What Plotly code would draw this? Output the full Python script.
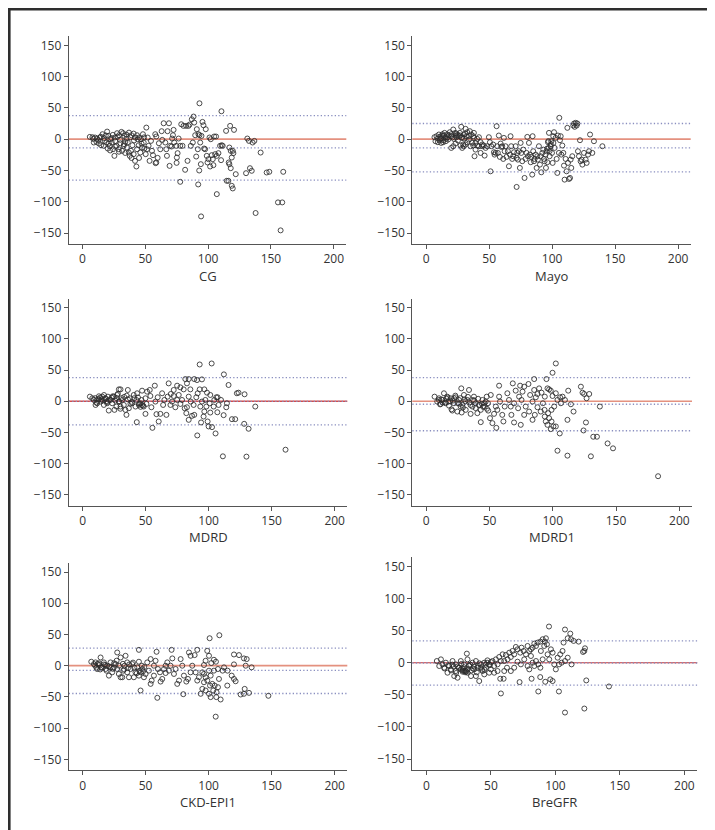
import plotly.graph_objects as go

W, H = 715, 830

# ---------------- data (mean GFR vs difference) ----------------
cg_x = [5.8, 7.9, 10, 11.6, 13.8, 15.9, 16.9, 19.6, 20.6, 22.2, 24.1, 25.7, 27.5, 29.1, 31, 32.3, 33.3, 34.9, 37, 38.9, 40.7, 42, 43.4, 45, 46.6, 48.1, 50.8, 51.9,
        9, 11.1, 13, 14.8, 16.9, 19, 20.1, 21.7, 23.3, 24.3, 25.4, 27, 28.8, 30.2, 31.5, 32.8, 34.1, 35.4, 36.8, 37.6, 38.6, 39.7, 40.7, 41.8, 42.9, 43.4, 44.7, 46, 47.4, 48.7, 49.2, 50.3, 51.3, 52.6, 53.4, 54.5, 55.3, 56.1,
        8.5, 12.5, 14.5, 17.5, 18.5, 21, 23, 26, 28, 30, 33, 35, 36, 38, 41, 44, 47, 49, 29, 34, 39, 45, 26, 22,
        57.9, 58.7, 59.8, 58.7, 60.8, 61.9, 63, 63.5, 64.6, 65.9, 66.7, 67.2, 67.7, 68.8, 69.3, 69.8, 70.9, 71.4, 72, 72.5, 73, 74.6, 75.1, 75.7, 76.5, 77.8, 78.6, 79.6, 80.4, 81.7, 82.5, 83.6, 84.4, 85.2, 86.2, 87, 87.8, 88.4, 88.9, 89.7, 90.5, 91, 91.8, 92.3, 92.9, 93.1, 93.7, 94.2, 94.7, 95.5, 96.3, 96.8, 97.6, 98.1, 98.9, 99.5, 100.3, 101.1, 101.6, 102.1, 102.9, 103.7, 104.2, 104.8, 105.6, 106.3, 106.9, 108.2, 109.5, 110.3, 110.8, 111.6, 58.2, 74.9,
        114.3, 116.9, 117.5, 118, 118.8, 119.6, 120.1, 120.6, 116.4, 116.9, 118, 122, 118.8, 119.6, 116.1, 114.8, 130.2, 133.3, 134.7, 131.2, 132.5, 135.4, 136.8, 141.8, 146.6, 148.7, 159.8, 155.6, 159, 137.8, 157.7, 94.4, 106.9, 92.1, 77.8, 93.1, 110.6]
cg_y = [3.7, 3.2, 2.7, 1.1, 2.7, 8, 1.6, 12.2, 5.3, 0, 6.9, 2.7, 9.6, 6.4, 11.7, 9.6, 5.3, 7.4, 10.6, 6.4, 9, 2.7, 6.4, 2.7, 0, 8, 18.6, 2.7,
        -5.3, -4.3, -6.9, -9.6, -10.6, -5.3, -14.9, -10.6, -5.3, -16, -26.6, -10.6, -16, -6.4, -18.6, -10.6, -4.3, -13.3, -21.3, -26.6, -18.6, -9.6, -23.9, -34.6, -43.6, -16, -9.6, -21.3, -13.3, -5.3, -14.9, -23.9, -16, -10.6, -34.6, -2.7, -18.6, -25.5,
        0.5, -1.5, 4, -2.5, 6, -7, 2, -3, 4, -1, -8, 1, -5, 3, -2, 0, -7, 3, -20, -22, -30, -30, -12, -18,
        8, 4.3, -29.8, -37.2, -6.4, -16, 12.8, -1.1, 25.5, -5.3, -16, -26.6, 12.8, 25.5, -42.6, -10.6, -11.7, 1.1, 6.4, 14.9, -5.3, -10.6, -29.3, -22.3, 1.1, -10.6, 23.9, -10.6, 21.3, -48.9, 21.3, -34.6, 21.3, 23.4, -10.6, 31.9, -5.3, 36.2, 26.6, 6.4, -27.7, 16, -16, 8, -50, 6.4, -5.3, -39.9, 5.3, 27.7, 22.3, -14.9, -16, 16, -26.6, -37.2, -31.9, 2.7, -43.6, 0, -25.5, -31.9, -41.5, 4.3, -23.9, 4.3, -26.6, -22.3, -10.6, -33.5, -9.6, -10.6, -38.3, -37.8,
        13.3, -13.3, 21.3, -18.6, -29.3, -18.6, -22.3, 14.9, -37.2, -39.9, -46.3, -55.9, -74.5, -78.7, -66.5, -66.5, -54.3, -46.3, -50.5, 1.1, -2.7, -5.3, -2.7, -21.3, -53.2, -52.1, -52.1, -101, -101, -118, -145.7, -123.4, -87.8, -72.3, -68.1, 57.4, 44.7]

mayo_x = [6.6, 8.2, 10.1, 11.4, 12.7, 13.5, 14.6, 15.4, 16.7, 17.5, 18.8, 19.9, 21.5, 22, 23.3, 24.1, 25.2, 26, 26.8, 27.8, 28.6, 29.4, 29.9, 31.3, 32.1, 32.6, 33.9, 34.7, 35.8, 36.6, 37.4, 37.9, 39.2, 40.5, 41.9, 43.2, 44.5,
          7.4, 9.3, 10.9, 11.9, 13.5, 15.6, 19.9, 21.5, 23.3, 27.3, 28.6, 29.9, 31.3, 32.6, 35.2, 37.4, 38.4, 39.2, 40.5, 41.9, 43.2, 44.5, 45.8, 46.4, 47.2, 48.5, 49.8, 50.6, 51.1, 51.7, 53.2, 53.8, 54.3, 55.1, 55.9, 56.4, 56.9, 57.7, 58.5, 59.1, 59.6, 60.4, 61.2, 61.7, 62.3, 63, 63.8, 64.9, 65.7, 66.5, 67, 67.5, 68.3, 69.1, 69.7, 71, 71.8, 72.3, 72.8, 73.6, 74.4, 75, 75.5, 76.3, 77.1, 78.1, 78.9, 79.7, 80.3, 80.8, 81.6, 82.4, 83, 83.4, 84.2, 84.5, 85, 85.6, 86.1, 86.9, 87.7, 88.2, 88.7, 89.5, 90.3, 90.9, 91.4, 92.2, 93, 93.5, 94, 94.8, 95.1, 95.6, 96.2, 96.7, 97.2, 97.5, 98, 98.8, 99.3, 99.9, 100.4, 100.9, 101.5, 102, 102.8, 103.6, 104.1, 104.6, 105.4, 105.7, 106.2, 106.8, 107.3, 108.1, 108.9, 109.4, 109.9, 110.7, 111.5, 112.1, 112.6, 113.4, 114.2, 114.7, 115.2, 116, 116.8, 117.4, 117.9, 118.7, 119.5, 120, 120.5, 121.3, 122.1, 122.6, 123.4, 124, 125.3, 126.6, 127.4, 128.5, 129.3, 130.1, 131.9, 133.2, 139.9, 71.8,
          9, 12, 14, 17, 20, 24, 27, 30, 34, 38, 11, 13, 16, 18, 21, 23, 25, 28, 31, 97, 99, 96, 98, 101]
mayo_y = [3.2, 4.8, 7.5, 0.5, 5.9, -1.6, 10.1, 3.2, 7.5, -0.5, 11.2, 4.8, 15.5, 0.5, 5.9, 9.1, -2.1, 4.8, 10.1, 19.8, 2.1, -8.5, 7.5, 16.6, 4.8, 11.2, -0.5, 12.8, 7.5, -5.9, 4.8, 10.1, -5.9, 0.5, 3.2, -4.8, -11.2,
          -3.2, -4.8, -1.6, -5.9, -4.8, -3.2, -13.9, -11.2, -6.9, -10.1, -13.9, -11.2, -8.5, -4.8, -11.2, -10.1, -27.2, -16.6, -10.1, -11.2, -21.9, -8.5, -10.1, -26.2, -13.9, -11.2, 3.2, -4.8, -51.3, -11.2, -8.5, -20.8, -24.6, -21.9, 20.8, -11.2, -21.9, 5.9, -28.3, -6.9, -12.3, -11.2, -31.5, 2.1, -19.2, -11.2, -28.3, -19.2, -43.2, -24.6, 4.8, -11.2, -31.5, -27.2, -20.8, -11.2, -29.9, -21.9, -32.6, -19.2, -45.9, -5.9, -21.9, -35.2, -16.6, -61.9, -31.5, -21.9, 3.7, -27.2, -5.9, -24.6, -36.8, -28.3, -56.6, 4.8, -19.2, -35.2, -31.5, -24.6, -45.9, -27.2, -32.6, -11.2, -40.6, -27.2, -52.9, -21.9, -16.6, -31.5, -35.2, -24.6, -45.9, -19.2, -36.8, -4.8, -13.9, 10.1, -27.2, -11.2, -3.2, -21.9, -37.9, 4.8, 11.2, -13.9, 2.1, -31.5, -53.9, 5.9, -21.9, 34.2, -1.6, 4.8, -24.6, -10.1, -21.9, -42.2, -64.6, -31.5, -51.3, 18.2, -37.9, -63.5, -61.9, -32.6, -45.9, -27.2, 21.9, 25.1, 19.8, 26.2, 21.9, 25.1, -19.2, -27.2, -1.6, -35.2, -32.6, -40.6, -21.9, -32.6, -37.9, -24.6, -19.2, 7.5, -21.9, -3.2, -11.2, -76.3,
          1, 2, 6, 3, 8, 3, 6, 1, 5, 2, 4, 8, 1, 6, 3, 10, 7, 3, 9, -3, -8, -15, -19, -6]

mdrd_x = [92.9, 102.4, 112.1, 115.8, 137, 161, 111.3, 130, 91, 105.5, 55.4, 43,
          81.5, 84.2, 88.6, 90.8, 94.7, 82.8, 75, 77.6, 68.3, 57.3, 80.2, 72.3, 85.5, 92.9, 96.6, 98.7, 101.3, 106.1, 107.1, 109.8, 122.4, 123.7, 128.5, 114.5, 114, 111.9, 118.5, 121.1, 128.2, 131.7, 106.9, 101.3, 96.6, 96, 94, 99.2, 100, 102.7, 88.6, 86.8, 84.2, 82.3, 81, 77.6, 75, 72.3, 70, 67.5, 64.9, 66.5, 61.7, 58.6, 60.4, 54.6, 53.8, 51.2, 53.3, 47.2, 46.7, 45.9, 48.5, 49.9, 44.6, 42.7, 40.6, 37.5, 35.9, 34.8, 34, 32.7, 31.4, 30.1, 28.8, 27.4, 26.9, 25.3, 24.8, 23.5, 22.2, 20.8, 20.1, 19, 18.2, 16.9, 15.6, 14.2, 12.9, 11.6, 10.3, 9, 7.7, 5.8,
          57.8, 59.6, 63.1, 63.9, 69.7, 71, 73.6, 76.3, 78.9, 82.8, 84.2, 85.8, 88.1, 90.2, 91.3, 93.4, 94.7, 97.4, 98.2, 100.8, 104, 104.5, 107.9, 49.9, 39.3, 28.8, 42, 19.5, 30.1, 36.7, 50.7, 43.3,
          10, 12, 14, 16, 18, 21, 24, 27, 29, 33, 36, 39, 41, 45, 47,
          11, 13, 15, 17, 20, 23, 26, 28, 31, 35, 38, 44, 46, 48, 30]
mdrd_y = [59, 60.6, 43.1, 26.1, -8.5, -77.7, -88.3, -88.8, -54.8, -51.6, -42.6, -33.5,
          35.6, 35.6, 35.6, 34, 35.1, 28.7, 25, 22.3, 28.7, 25, 19.1, 18.1, 19.1, 19.1, 19.1, 13.8, 10.1, 6.4, 6.4, 2.1, 12.8, 13.8, 11.2, -3.2, -9.6, -22.3, -28.7, -28.7, -36.2, -44.1, -17.6, -18.1, -16.5, -24.5, -34, -32.4, -40.4, -41.5, -21.8, -23.4, -29.8, -19.1, -11.2, -4.3, 2.1, 8.5, 11.7, 7.4, 2.1, -21.8, -20.2, -20.7, -32.4, -9.6, 8.5, 15.4, 18.1, 17, 2.1, -3.2, -8.5, -20.2, -5.9, 2.1, 10.1, 4.8, 18.1, -21.8, -13.8, -5.9, 2.1, 19.1, 19.1, 10.1, -8.5, -13.8, 7.4, -3.2, 2.1, -14.9, 7.4, -0.5, 4.8, -5.9, 7.4, -0.5, 3.2, -3.2, -5.9, 2.1, 4.8, 7.4,
          -0.5, 6.4, 12.8, -5.9, -5.9, -0.5, -9.6, 10.1, 2.1, -9.6, 7.4, -0.5, -5.9, 6.4, 12.8, -8.5, -0.5, 2.1, -8.5, -3.2, -8.5, 2.1, -5.9, 4.8, -3.2, -0.5, -8.5, -3.2, -8.5, -11.2, -4.3, 12.8,
          5, 3, 6, 1, 4, 2, 8, 5, 0, 7, 3, -1, 5, -4, -6,
          -2, 8, 3, 10, -1, 6, 1, 12, 5, 9, -4, 6, -9, -7, -12]

mdrd1_x = [102.4, 99.8, 85.3, 95, 112.2, 122.2, 123.5, 124.8, 128.8, 126.7, 137.2, 116.4, 114.3, 111.6, 126.2, 124.3, 132, 134.9, 143.3, 147.6, 103.7, 111.6, 130.1, 183.2, 105.5, 55.4, 43.1, 74.7, 69.4, 61,
           57.6, 68.4, 74.2, 77.4, 80.8, 70.7, 76.1, 82.1, 87.9, 89.2, 91.1, 93.7, 95.8, 97.1, 98.4, 99.8, 102.4, 105.8, 107.7, 109.6, 106.4, 101.1, 99, 96.3, 94.5, 95.8, 98.4, 100.5, 102.4, 99, 97.1, 93.7, 90.5, 87.9, 85.8, 84, 81.3, 78.6, 77.4, 75.3, 72.6, 69.4, 67.3, 65.4, 64.1, 62, 60.1, 58.3, 57.6, 56.2, 53.6, 52.3, 50.4, 48.8, 47.8, 46.2, 44.4, 43.1, 41.7, 40.4, 39, 37.7, 36.5, 35.1, 33.8, 32.5, 31.2, 29.8, 28.5, 27.7, 27.2, 25.9, 24.6, 23.3, 21.9, 20.6, 19.3, 17.6, 16.6, 15.3, 14, 12.7, 11.4, 10.1, 8.7, 6.6, 51, 47, 55, 66.8, 73.4, 84, 86.6, 92.2, 93.5, 103.7, 85.3,
           10, 13, 16, 19, 22, 26, 30, 34, 38, 42, 46,
           11, 12, 15, 17, 18, 21, 23, 25, 27, 29, 31, 33, 35, 37, 39, 41, 44, 45, 48, 49, 28, 20]
mdrd1_y = [60.6, 45.7, 35.6, 35.6, 17, 23.4, 13.8, 11.7, 11.7, 4.8, -8.5, -16.5, -4.8, -29.8, -34, -46.8, -56.9, -56.9, -67.6, -75.5, -79.3, -87.2, -88.3, -120.2, -51.6, -42.6, -33.5, -37.8, -34, -32.4,
           25, 28.7, 25, 23.4, 27.7, 17, 15.4, 10.1, 11.7, 20.7, 13.8, 7.4, 20.7, 19.1, 17, 8.5, 12.8, 6.4, 7.4, 2.1, -3.2, -8.5, -13.8, -19.1, -32.4, -37.8, -44.7, -40.4, -40.4, -32.4, -27.1, -24.5, -16.5, -9.6, -21.8, -29.8, -16.5, -8.5, -21.8, 2.1, -11.2, -3.2, -21.8, 2.1, 12.8, -8.5, -21.8, -0.5, 7.4, -13.8, -20.2, -35.1, -27.1, -3.2, 7.4, -8.5, 2.1, -13.8, -5.9, -19.1, -3.2, 7.4, -8.5, -20.2, 18.1, 2.1, -13.8, 10.1, -5.9, 20.7, -8.5, 2.1, -16.5, 6.4, -3.2, -14.9, 4.8, -0.5, 7.4, -3.2, 12.8, 2.1, -4.3, 4.8, -0.5, 7.4, 10.1, -0.5, -8.5, -8.5, 7.4, -0.5, 6.4, -3.2, -13.8, 2.1, 18.1,
           2, -2, 4, 0, 5, -4, 3, -2, 1, -6, -3,
           -5, 3, -2, 6, -7, 1, 9, -3, 5, -10, 0, 7, -6, 2, -11, 4, -4, -9, -12, -15, -18, -13]

ckd_x = [100.8, 108.5, 105.6, 147.4, 59.3, 46, 79.9, 70.6, 58.7, 44.7, 27.5, 120.1, 124.1, 128, 130.2, 120.1, 129.4, 134.1, 118.3, 120.1, 114.8, 121.4, 125.4, 128, 132, 128.6, 109.5, 106.1, 101.6, 100.3, 97.6, 93.7, 95, 96.3, 98.9, 101.6, 102.9, 104.8, 106.3, 107.4, 108.2, 104.2, 102.1, 104.2, 105.8, 100.3, 98.9, 97.6, 96.3, 95, 92.3, 91, 89.7, 91, 88.9, 85.7, 87, 84.4, 83.6, 82.3, 80.4, 79.1, 77.8, 76.5, 75.1, 72.5, 71.2, 69.8, 68.5, 67.2, 65.9, 64.6, 63.2, 61.9, 61.4, 59.8, 57.9, 56.6, 54.8, 54, 52.6, 51.3, 50, 48.7, 47.4, 46, 44.7, 43.4, 42, 40.7, 39.4, 38.1, 36.8, 35.4, 34.1, 33.3, 32.3, 31.5, 30.2, 28.8, 27.5, 26.2, 24.9, 23.5, 22.2, 20.9, 19.6, 18.3, 16.9, 15.6, 14.3, 13, 11.6, 10.3, 9, 6.9, 54, 44.7, 35.4, 30.2, 22.2, 56.6, 65.9, 73.8, 85.7, 96.3, 100.3, 107.4, 111.1, 115, 112.2, 97.6, 101.1, 103.7,
         10, 12, 15, 18, 21, 25, 29, 33, 37, 41, 45, 49,
         11, 13, 14, 17, 19, 24, 27, 32, 36, 40, 43, 47, 48]
ckd_y = [44, 48.8, -81.6, -48.2, -51.4, -39.7, -45.6, 25.4, 22.3, 25.4, 21.2, 18, 17, 11.7, 10.6, 2.1, 0, -2.6, -15.9, -21.2, -31.8, -24.9, -46.1, -45, -43.5, -37.1, -54.1, -50.3, -50.3, -45, -39.7, -45, -37.1, -26.5, -23.8, -15.9, -29.1, -31.8, -42.4, -34.4, -21.2, -7.9, 4.2, 9.5, 6.4, 15.9, 23.8, 7.9, 1.1, -10.6, -18.5, -23.8, -10.6, 25.4, 17, 15.9, 0, 21.2, -21.2, -25.4, -15.9, 0, 10.6, -23.8, -29.1, -13.2, 11.7, 0, -7.9, 5.3, -11.7, -5.3, -21.2, -25.4, -10.6, -5.3, 7.9, 0, -23.8, -29.1, -7.9, 5.3, -13.2, -18.5, -5.3, -10.6, -15.9, -2.6, -10.6, -18.5, 2.6, -5.3, -18.5, -10.6, 15.9, 0, -7.9, -18.5, -18.5, -13.2, -5.3, 2.6, -2.6, -10.6, 5.3, -15.9, 0, -5.3, 5.3, -2.6, 13.2, 1.1, -5.3, 5.3, 2.6, 6.4, 10.6, 6.4, 5.3, 13.2, -2.6, -15.9, 0, -5.3, -10.6, -13.2, -7.9, -5.3, -7.9, -7.9, -2.6, -18.5, -31.8, -39.7,
         0, 3, -3, 1, -1, 4, 0, -6, 2, -3, -8, -2,
         -3, 4, -6, 2, -8, -5, 8, 3, -4, 5, -12, 0, -9]

bre_x = [95, 107.4, 111.5, 109.5, 106.3, 114.1, 118, 112.1, 122.9, 122.4, 121.4, 112.5, 109.5, 107.4, 123.9, 141.5, 122.4, 107.4, 102.7, 86.7, 57.7, 72.2, 81.5, 88.2, 92.1, 96, 97.8, 57.2, 59.8,
         92.6, 91.8, 90.1, 88.3, 86.2, 84.9, 83.6, 82.3, 81, 79.7, 78.4, 77.1, 75.3, 73.7, 72.7, 70.6, 69.3, 68, 66.7, 65.4, 64.2, 62.9, 61.6, 60.3, 59, 57.7, 56.4, 55.1, 53.8, 52.5, 51.2, 49.9, 48.6, 47.3, 46, 44.8, 43.5, 42.2, 40.9, 39.6, 38.3, 37, 35.7, 34.5, 33.1, 31.8, 31.3, 30.5, 29.2, 27.9, 26.6, 25.4, 24.1, 22.8, 21.5, 20.2, 18.9, 17.6, 16.3, 15, 13.7, 12.4, 11.2, 9.9, 8,
         78.4, 79.7, 75.8, 73.2, 70.6, 68, 65.4, 62.4, 60.3, 88.7, 90.1, 86.7, 88.3, 84.9, 83.6, 93.9, 95.2, 96.5, 97.8, 99.1, 100.3, 101.7, 102.8, 103.7, 104.8, 105.5, 91.3, 93.4, 81, 82.3, 55.1, 52.5, 48.6, 44.8, 38.3, 31.8, 29.2, 26.6, 22.8,
         20, 24, 28, 30, 33, 36, 40, 43, 46, 50,
         14, 17, 19, 21, 23, 25, 27, 29, 31, 32, 34, 35, 37, 39, 41, 42, 45, 47, 49, 30, 28]
bre_y = [56.3, 51.6, 45.3, 38, 31.3, 33.9, 32.8, 36.5, 22.4, 18.2, 16.7, -2.6, 7.8, 2.6, -27.6, -37, -71.4, -77.6, -44.8, -44.8, -47.9, -30.2, -25, -22.4, -29.7, -26, -28.6, -25, -25,
         38, 32.8, 36.5, 32.8, 31.3, 26, 29.7, 23.4, 20.8, 18.2, 26, 13, 18.2, 23.4, 15.6, 20.8, 24.5, 13, 18.2, 8.9, 15.6, 5.2, 12, 2.6, 13, 2.6, 8.9, -2.6, 5.2, -5.2, 2.6, -10.4, -2.6, 3.6, -7.8, 0, -13, -2.6, -28.6, -7.8, 2.6, -10.4, 0, -20.8, -5.2, 5.2, 14.1, -13, -2.6, -12, 2.6, -7.8, -23.4, -2.6, -20.8, 2.6, -10.4, -5.2, -15.6, 0, -7.8, -2.6, 5.2, -5.2, 2.6,
         -5.2, -10.4, 5.2, -2.6, 1.6, -7.8, -13, -7.8, -13, 18.2, 5.2, -2.6, -7.8, 2.6, -5.2, 13, 5.2, 20.8, 15.6, -2.6, -10.4, 7.8, -2.6, 13, 0, 18.2, 26, 28.6, 10.4, 0, -13, -15.6, -15.6, -18.2, -20.8, -15.6, -13, -10.4, -13,
         -3, -6, -14, -12, -4, -9, -5, -11, -3, 1,
         -9, -4, -12, -6, -16, -8, -2, -7, -14, -10, -3, -12, -6, -15, -1, -8, -11, 0, -4, -15, -9]

panel_names = ["CG", "Mayo", "MDRD", "MDRD1", "CKD-EPI1", "BreGFR"]
panel_x = [cg_x, mayo_x, mdrd_x, mdrd1_x, ckd_x, bre_x]
panel_y = [cg_y, mayo_y, mdrd_y, mdrd1_y, ckd_y, bre_y]
mean_bias = [-13.8, -13.9, -0.3, -4.8, -7.4, -0.5]
upper_loa = [37.8, 25.1, 37.8, 37.8, 28.1, 33.9]
lower_loa = [-65.4, -52.3, -37.8, -47.3, -44.5, -34.9]
x_ticks = [0, 50, 100, 150, 200]
y_ticks = [-150, -100, -50, 0, 50, 100, 150]

# ---------------- layout (pixel boxes of each panel) ----------------
boxes = [  # left, right, top, bottom in px
    (60.7, 338.3, 28.3, 236.0),
    (404.3, 682.7, 28.3, 236.0),
    (60.7, 339.3, 290.7, 497.7),
    (404.3, 684.0, 290.7, 497.7),
    (60.7, 339.3, 555.0, 762.3),
    (404.3, 689.3, 549.0, 762.3),
]
zero_style = [("#e4917f", 1.8), ("#e4917f", 1.8), ("#d24c4c", 1.3),
              ("#e4917f", 1.6), ("#e4917f", 1.8), ("#c83a3a", 1.1)]

FONT = "Open Sans"
AX = "#555555"
TXT = "#333333"
DOT = "#8a8fc0"

fig = go.Figure()
layout = dict(width=W, height=H, margin=dict(l=0, r=0, t=0, b=0),
              paper_bgcolor="white", plot_bgcolor="white", showlegend=False,
              font=dict(family=FONT, size=12, color=TXT))
shapes = []
annotations = []

for i, name in enumerate(panel_names):
    n = i + 1
    xa = "x" if n == 1 else f"x{n}"
    ya = "y" if n == 1 else f"y{n}"
    l, r, t, b = boxes[i]
    layout[f"xaxis{'' if n == 1 else n}"] = dict(
        domain=[l / W, r / W], range=[-11, 210], anchor=ya,
        showline=True, linecolor=AX, linewidth=1, ticks="outside", ticklen=4,
        tickcolor=AX, tickwidth=1, tickvals=x_ticks, showgrid=False, zeroline=False,
        tickfont=dict(family=FONT, size=12, color=TXT))
    layout[f"yaxis{'' if n == 1 else n}"] = dict(
        domain=[1 - b / H, 1 - t / H], range=[-167.5, 164.5], anchor=xa,
        showline=True, linecolor=AX, linewidth=1, ticks="outside", ticklen=4,
        tickcolor=AX, tickwidth=1, tickvals=y_ticks, showgrid=False, zeroline=False,
        tickfont=dict(family=FONT, size=12, color=TXT))

    zc, zw = zero_style[i]
    shapes.append(dict(type="line", xref=f"{xa} domain", yref=ya, x0=0, x1=1,
                       y0=0, y1=0, line=dict(color=zc, width=zw), layer="below"))
    for v in (upper_loa[i], mean_bias[i], lower_loa[i]):
        shapes.append(dict(type="line", xref=f"{xa} domain", yref=ya, x0=0, x1=1,
                           y0=v, y1=v, line=dict(color=DOT, width=1.3, dash="1.3px,2.2px"),
                           layer="below"))

    fig.add_trace(go.Scatter(
        x=panel_x[i], y=panel_y[i], mode="markers", xaxis=xa, yaxis=ya,
        marker=dict(symbol="circle-open", size=5, color="rgba(45,45,45,0.85)",
                    line=dict(width=1)),
        hoverinfo="skip"))

    annotations.append(dict(text=name, xref=f"{xa} domain", yref=f"{ya} domain",
                            x=0.5, y=0, xanchor="center", yanchor="middle",
                            yshift=-31.5, showarrow=False,
                            font=dict(family=FONT, size=13, color=TXT)))

# outer frame
shapes.append(dict(type="rect", xref="paper", yref="paper",
                   x0=1.3 / W, x1=713.3 / W, y0=1 - 829 / H, y1=1 - 1.3 / H,
                   line=dict(color="#2e2e2e", width=2.6), layer="above"))

layout["shapes"] = shapes
layout["annotations"] = annotations
fig.update_layout(**layout)
fig.write_html("out.html")
